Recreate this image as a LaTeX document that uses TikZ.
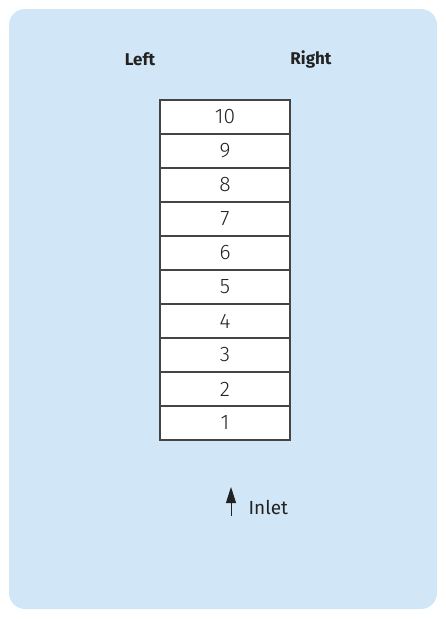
\documentclass[tikz,border=0pt]{standalone}
\usepackage{fontspec}
\setmainfont{Fira Sans}
\newfontfamily\lightfont{Fira Sans Light}
\usetikzlibrary{arrows.meta}
\definecolor{bg}{HTML}{D1E6F6}
\definecolor{ink}{HTML}{222222}
\definecolor{edge}{HTML}{444444}
\tikzset{
  cell/.style={draw=edge, line width=1.3pt, fill=white, minimum width=130pt, minimum height=34pt, inner sep=0pt, font=\lightfont\fontsize{21}{24}\selectfont, text=ink},
  head/.style={font=\bfseries\fontsize{17}{20}\selectfont, text=ink},
  lbl/.style={font=\fontsize{19}{22}\selectfont, text=ink}
}
\begin{document}
\begin{tikzpicture}[x=1pt,y=-1pt]
\useasboundingbox (0,0) rectangle (445,619);
\fill[bg, rounded corners=16pt] (9,9) rectangle (437,609);
\node[head] (left) at (140,59) {Left};
\node[head] (right) at (311,59) {Right};
\foreach \i in {1,...,10} {
  \node[cell] (c\i) at (225,{440-17-34*(\i-1)}) {\i};
}
\coordinate (a0) at (231,516);
\coordinate (a1) at (231,487);
\draw[ink, line width=1pt, -{Triangle[length=16pt,width=10pt]}] (a0) -- (a1);
\node[lbl, anchor=west] (inlet) at (245,507) {Inlet};
\end{tikzpicture}
\end{document}
